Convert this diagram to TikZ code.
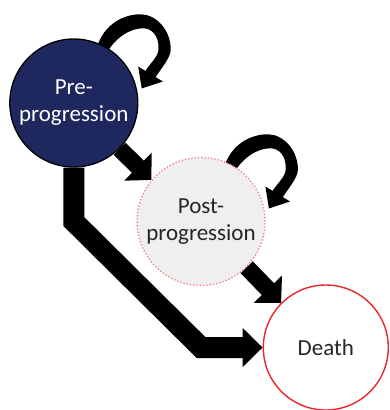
\documentclass[tikz,border=0pt]{standalone}
\usepackage{fontspec}
\setmainfont{Carlito}
\usetikzlibrary{arrows.meta,backgrounds,calc}
\definecolor{navyfill}{HTML}{1F285E}
\definecolor{postfill}{HTML}{EFEFEF}
\definecolor{postline}{HTML}{EE7F84}
\definecolor{deathline}{HTML}{E8262B}
\definecolor{txtdark}{HTML}{262626}
\begin{document}
\begin{tikzpicture}[x=1pt,y=-1pt,
  state/.style={circle, inner sep=0pt, align=center,
    font=\fontsize{23}{27}\selectfont},
  straightar/.style={line width=17pt, draw=black,
    -{Triangle[width=38pt,length=19pt]}},
  bigar/.style={line width=21pt, draw=black, line join=miter,
    -{Triangle[width=38pt,length=20pt]}},
  selfloop/.pic={
    \fill[black] (23.2,-56)
      .. controls (30.2,-79) and (50.2,-89) .. (67.2,-88.7)
      .. controls (82.2,-88.5) and (97.2,-73) .. (96.9,-53)
      .. controls (96.7,-45) and (86,-32.7) .. (81.8,-25.9)
      -- (89,-21.5) -- (67.9,-14.5) -- (64.4,-36.5) -- (71.6,-32.1)
      .. controls (77.2,-41) and (85.7,-47) .. (84.7,-56)
      .. controls (84.7,-67) and (78.2,-74.7) .. (69.5,-74.7)
      .. controls (56.2,-75) and (41.2,-65) .. (32.2,-49) -- cycle;
  }
]
\useasboundingbox (0,0) rectangle (389,410);

\node[state, minimum size=128pt, fill=navyfill, draw=black, line width=1.3pt,
  text=white] (pre) at (73.8,103) {Pre-\\progression};
\node[state, minimum size=128pt, fill=postfill, draw=postline, line width=1.3pt,
  dotted, text=txtdark] (post) at (201,221.5) {Post-\\progression};
\node[state, minimum size=125pt, fill=white, draw=deathline, line width=1.4pt,
  text=txtdark] (death) at (325.8,347.5) {Death};

\begin{scope}[on background layer]
  % self loops
  \pic at (pre.center) {selfloop};
  \pic at ($(post.center)+(0,1.5)$) {selfloop};
  % pre -> post
  \draw[straightar] (pre.-45) -- (post.140);
  % post -> death
  \draw[straightar] (post.-45) -- (death.135);
  % pre -> death
  \draw[bigar] (pre.south) -- (pre.south |- post.center)
    -- (post.center |- death.west) -- (death.west);
\end{scope}
\end{tikzpicture}
\end{document}
